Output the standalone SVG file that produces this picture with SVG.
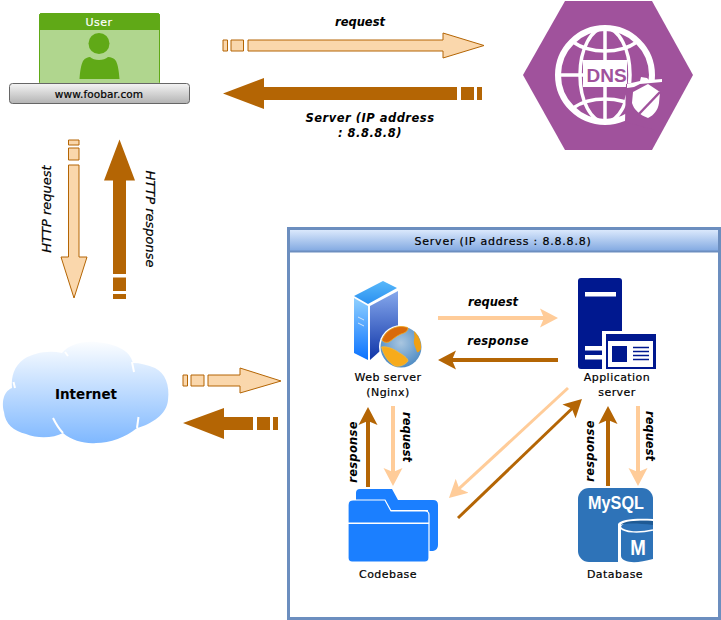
<svg xmlns="http://www.w3.org/2000/svg" width="721" height="620" viewBox="0 0 721 620">
<style>
text{font-family:"DejaVu Sans",Verdana,sans-serif;fill:#000;text-anchor:middle}
.l{font-size:11px;letter-spacing:.45px;stroke:#000;stroke-width:.2px}
.bi{font-size:11.500px;font-weight:bold;font-style:italic;letter-spacing:.3px}
.h{font-size:13px;font-style:italic;stroke:#000;stroke-width:.2px}
.req{fill:#fad7ac;stroke:#b46504;stroke-width:1}
.res{fill:#b46504;stroke:none}
.tl{fill:none;stroke:#ffcc99;stroke-width:4}
.tr{fill:none;stroke:#b46504;stroke-width:4}
.dg{stroke-width:3}
</style>
<defs>
<linearGradient id="gb" x1="0" y1="0" x2="0" y2="1"><stop offset="0" stop-color="#f4f4f4"/><stop offset="1" stop-color="#b3b3b3"/></linearGradient>
<linearGradient id="gc" x1="0" y1="0" x2="0" y2="1"><stop offset="0" stop-color="#fbfdff"/><stop offset="1" stop-color="#7fb8ff"/></linearGradient>
<linearGradient id="gh" x1="0" y1="0" x2="0" y2="1"><stop offset="0" stop-color="#dae8fc"/><stop offset="1" stop-color="#7ea6e0"/></linearGradient>
<linearGradient id="g1" x1="0" y1="0" x2="0" y2="1"><stop offset="0" stop-color="#8fd0ff"/><stop offset="1" stop-color="#0a72ff"/></linearGradient>
<linearGradient id="g2" x1="0" y1="0" x2="0" y2="1"><stop offset="0" stop-color="#86a8ec"/><stop offset="1" stop-color="#0f35a8"/></linearGradient>
<linearGradient id="g3" x1="0" y1="0" x2="0" y2="1"><stop offset="0" stop-color="#58b8fa"/><stop offset="1" stop-color="#2a90f0"/></linearGradient>
<radialGradient id="g4" cx=".5" cy=".4" r=".6"><stop offset="0" stop-color="#a9c6e0"/><stop offset="1" stop-color="#4f8cc4"/></radialGradient>
<marker id="ml" markerUnits="userSpaceOnUse" viewBox="0 0 18 20" markerWidth="18" markerHeight="20" refX="5" refY="10" orient="auto"><path d="M18 10L0 .5 4 10 0 19.500Z" fill="#ffcc99"/></marker>
<marker id="mr" markerUnits="userSpaceOnUse" viewBox="0 0 18 20" markerWidth="18" markerHeight="20" refX="5" refY="10" orient="auto"><path d="M18 10L0 .5 4 10 0 19.500Z" fill="#b46504"/></marker>
</defs>

<g id="user">
<rect x="39.500" y="13.500" width="120" height="71" rx="2" fill="#b0d68e" stroke="#60a917"/>
<path d="M39.500 29.500V15.500a2 2 0 0 1 2-2h116a2 2 0 0 1 2 2v14Z" fill="#60a917" stroke="#60a917"/>
<text x="99" y="26" class="l" style="fill:#fff;stroke:#fff">User</text>
<circle cx="99" cy="43.500" r="10.500" fill="#60a917"/>
<path d="M79.500 79C80 72 81 65 83 61 85 58 88 57 90 57 94 61 104 61 108 57 111 57 114 58 116 61 118 65 119 72 119.500 79Z" fill="#60a917"/>
<rect x="9.500" y="83.500" width="180" height="20" rx="3" fill="url(#gb)" stroke="#666"/>
<text x="99" y="98" class="l" style="font-size:10.500px;letter-spacing:.1px">www.foobar.com</text>
</g>

<g id="dns">
<path d="M523 75 565 1H652L693 75 652 150H565Z" fill="#a0529c"/>
<g fill="none" stroke="#fff">
<circle cx="605" cy="75" r="47" stroke-width="6"/>
<ellipse cx="605" cy="75" rx="25" ry="47" stroke-width="3.500"/>
<path d="M605 28V122M561 75H585" stroke-width="3.500"/>
<path d="M573 42C590 54 620 54 637 42M573 108C590 96 620 96 637 108" stroke-width="3.500"/>
</g>
<rect x="583" y="60" width="44" height="27" fill="#fff"/>
<path d="M626 84 655 80V130L625 122Z" fill="#a0529c"/>
<path d="M627 84 640 81 641 77 647 78 649 80 662 79 662 82 640 84 634 87 627 88Z" fill="#fff"/>
<path d="M648 84 633 92 632 103C634 110 640 115 648 118 654 115 658 110 659 103L660 92Z" fill="#fff"/>
<path d="M638 115 660 92" stroke="#a0529c" stroke-width="2.500" fill="none"/>
<text x="606.500" y="82" style="font-family:'Liberation Sans',Arial,sans-serif;font-size:19px;font-weight:bold;fill:#a0529c">DNS</text>
</g>

<g id="internet">
<path d="M12 388C2 392 2 405 4 412 5 424 14 431 26 434 38 439 54 438 63 433 72 441 86 444 96 443 110 443 126 437 137 428 152 424 167 414 168 400 170 385 165 373 155 368 148 365 140 363 133 363 130 350 116 344 96 342 82 341 70 344 62 353 48 350 34 353 24 359 14 366 11 377 12 388Z" fill="url(#gc)"/>
<path d="M13.500 382 15 388M65 352 68 356M132 362 134 372M53 418C56 424 60 430 63 433M138.500 417 137 428" fill="none" stroke="#fff" stroke-width="2"/>
<text x="86" y="399" style="font-size:13.500px;font-weight:bold">Internet</text>
</g>

<g id="server">
<rect x="288.500" y="228.500" width="431" height="390" fill="#fff" stroke="#6c8ebf" stroke-width="3"/>
<rect x="290" y="230" width="428" height="22" fill="url(#gh)"/>
<rect x="290" y="250.500" width="428" height="2" fill="#6c8ebf"/>
<text x="503" y="245" class="l" style="letter-spacing:.8px">Server (IP address : 8.8.8.8)</text>
</g>

<g id="web-server">
<path d="M354 296 383 281 397 288 368 304Z" fill="url(#g3)"/>
<path d="M354 298 368 306V360L354 353Z" fill="url(#g1)"/>
<path d="M370 306 398 291V335L370 360Z" fill="url(#g2)"/>
<path d="M358 317 364 320M358 323 364 326" stroke="#d5e5f8" stroke-width="1"/>
<circle cx="401" cy="347" r="22" fill="#fff"/>
<circle cx="401" cy="347" r="20.500" fill="url(#g4)"/>
<path d="M382 340C385 332 392 327 400 326.500 404 326.500 407 327 408 328 408 331 405 333 401 334 396 336 392 340 389 342 386 343 383 342 382 340Z" fill="#d96a0b" stroke="#f7ab1b" stroke-width=".8"/>
<path d="M381.500 347C387 346 394 349 398 352 403 355 408 358 408 361 405 365 400 367 395 366 389 363 384 356 381.500 347Z" fill="#f7ab1b" stroke="#f4b93f" stroke-width=".8"/>
<path d="M414 331C419 336 421.500 342 421 349 420 351 418 353 417 352 416 348 413 344 414 340 415 337 414 334 414 331Z" fill="#f0a012"/>
<text x="388" y="381" class="l">Web server</text>
<text x="388" y="396" class="l">(Nginx)</text>
</g>

<g id="application-server">
<rect x="578" y="278" width="44" height="91" rx="3" fill="#00188f"/>
<rect x="585" y="292" width="31" height="4.500" fill="#fff"/>
<rect x="585" y="346" width="20" height="4.500" fill="#fff"/>
<rect x="585" y="355" width="20" height="4.500" fill="#fff"/>
<rect x="602" y="331" width="56" height="39" fill="#fff"/>
<rect x="606" y="334" width="50" height="35" fill="#00188f"/>
<rect x="608" y="341" width="45" height="26" fill="#fff"/>
<rect x="612" y="346" width="15" height="16" fill="#00188f"/>
<path d="M633 347.500H649M633 351.500H649M633 355.500H649M633 359.500H649" stroke="#00188f" stroke-width="1.700"/>
<text x="617" y="381" class="l">Application</text>
<text x="617" y="396" class="l">server</text>
</g>

<g id="codebase">
<path d="M356 500V493Q356 489 360 489H392L398 500H433Q438 500 438 505V545Q438 550 433 551H428V510H390L385 500Z" fill="#1b7fff"/>
<path d="M348 505Q348 500 353 500H385L391 511H425Q429 511 429 515V558Q429 562 425 562H352Q348 562 348 558Z" fill="#1b7fff" stroke="#fff" stroke-width="1.200"/>
<rect x="348" y="522.500" width="81" height="1.500" fill="#fff"/>
<text x="388" y="578" class="l">Codebase</text>
</g>

<g id="database">
<rect x="578" y="488" width="75" height="74" rx="11" fill="#2e73b8"/>
<text transform="translate(616 509) scale(.9 1)" style="font-family:'Liberation Sans',Arial,sans-serif;font-size:18px;font-weight:bold;fill:#fff">MySQL</text>
<path d="M618 562V524C620 519 636 518 653 519V562Z" fill="#fff"/>
<path d="M621 527C622 522 636 520 653 521V559C636 564 622 563 621 556Z" fill="#2e73b8"/>
<path d="M621 525C622 521 636 520 653 521V525C638 523 624 523 621 525Z" fill="#1e5a94"/>
<path d="M620 527C624 533 640 533 653 530" fill="none" stroke="#fff" stroke-width="1.500"/>
<text transform="translate(638 555) scale(.85 1)" style="font-family:'Liberation Sans',Arial,sans-serif;font-size:22px;font-weight:bold;fill:#fff">M</text>
<text x="615" y="578" class="l">Database</text>
</g>

<g id="connectors">
<path class="req" d="M223 40h4.500v11H223ZM231 40h12.500v11H231ZM248 40H443V33L484 45.500 443 58V51H248Z"/>
<path class="res" d="M223 93.500 264 78V87H457V100H264V109ZM461 87h13v13h-13ZM477 87h5v13h-5Z"/>
<path class="req" d="M68.500 140H79V145H68.500ZM68.500 148H79V160H68.500ZM68.500 165H79V257H87L74 298 61 257H68.500Z"/>
<path class="res" d="M119.500 139.500 135 180.500H126V274H113V180.500H104ZM113 277.500h13V291h-13ZM113 294h13v5h-13Z"/>
<path class="req" d="M183 375h4.500v11H183ZM191 375h13v11H191ZM208 375H240V368L281 381 240 393V386H208Z"/>
<path class="res" d="M183 423 224 408V417H253V430H224V439ZM257 417h13v13h-13ZM273 417h5v13h-5Z"/>
<path class="tl" d="M438 318H545" marker-end="url(#ml)"/>
<path class="tr" d="M558 360H451" marker-end="url(#mr)"/>
<path class="tr" d="M368 487V420" marker-end="url(#mr)"/>
<path class="tl" d="M393 406V473" marker-end="url(#ml)"/>
<path class="tr" d="M608 486V419" marker-end="url(#mr)"/>
<path class="tl" d="M638 406V473" marker-end="url(#ml)"/>
<path class="tl dg" d="M568 388 458.500 489.200" marker-end="url(#ml)"/>
<path class="tr dg" d="M458 518 572.600 408" marker-end="url(#mr)"/>
<text x="360" y="26" class="bi" style="letter-spacing:0">request</text>
<text x="370" y="122" class="bi" style="letter-spacing:.5px">Server (IP address</text>
<text x="370" y="137" class="bi" style="letter-spacing:.5px">: 8.8.8.8)</text>
<text transform="translate(51 209) rotate(-90)" class="h">HTTP request</text>
<text transform="translate(146 219) rotate(90)" class="h">HTTP response</text>
<text x="493" y="306" class="bi" style="letter-spacing:0">request</text>
<text x="498" y="345" class="bi">response</text>
<text transform="translate(357 452) rotate(-90)" class="bi">response</text>
<text transform="translate(403 437) rotate(90)" class="bi" style="letter-spacing:0">request</text>
<text transform="translate(594 451) rotate(-90)" class="bi">response</text>
<text transform="translate(646 436) rotate(90)" class="bi" style="letter-spacing:0">request</text>
</g>
</svg>
